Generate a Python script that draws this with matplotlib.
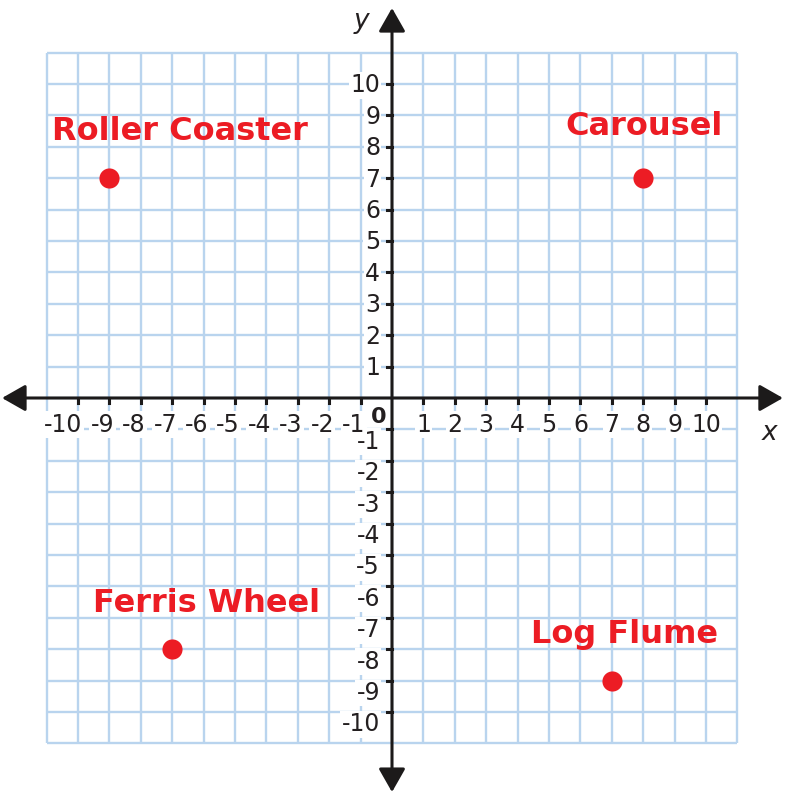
import matplotlib
matplotlib.use("Agg")
import matplotlib.pyplot as plt

# data
places = ["Roller Coaster", "Carousel", "Ferris Wheel", "Log Flume"]
place_x = [-9, 8, -7, 7]
place_y = [7, 7, -8, -9]
tick_values = [v for v in range(-10, 11) if v != 0]
grid_values = list(range(-11, 12))

# label offsets from each point (style only)
label_offsets = {
    "Roller Coaster": (2.25, 1.22),
    "Carousel": (0.03, 1.38),
    "Ferris Wheel": (1.08, 1.18),
    "Log Flume": (0.4, 1.2),
}

RED = "#ec1c24"
GRID = "#b9d4ee"
INK = "#1c1a1a"
TEXT = "#231f20"

u = 31.4  # pixels per unit
fig = plt.figure(figsize=(8, 8.07), dpi=100)
ax = fig.add_axes([0, 0, 1, 1])
ax.set_xlim(-392 / u, 408 / u)
ax.set_ylim(-(807 - 398) / u, 398 / u)
ax.axis("off")

# grid
for v in grid_values:
    ax.plot([v, v], [-11, 11], color=GRID, lw=1.7, zorder=1, solid_capstyle="butt")
    ax.plot([-11, 11], [v, v], color=GRID, lw=1.7, zorder=1, solid_capstyle="butt")

# axes with arrows
arrow = dict(arrowstyle="<|-|>,head_length=0.72,head_width=0.41",
             mutation_scale=20, lw=2.2, color=INK, shrinkA=0, shrinkB=0)
ax.annotate("", xy=(12.45, 0), xytext=(-12.42, 0), arrowprops=arrow, zorder=4)
ax.annotate("", xy=(0, 12.42), xytext=(0, -12.55), arrowprops=arrow, zorder=4)


def tick_label(x, y, s, ha):
    # white patch behind the label first, then the label on top
    ax.text(x, y, s, ha=ha, va="baseline", fontsize=17, color="none", zorder=2,
            bbox=dict(facecolor="white", edgecolor="none", pad=1.0))
    ax.text(x, y, s, ha=ha, va="baseline", fontsize=17, color=TEXT, zorder=3)


# ticks and tick labels
for v in tick_values:
    ax.plot([v, v], [0, -0.17], color=INK, lw=2.2, zorder=4)
    ax.plot([0, -0.17], [v, v], color=INK, lw=2.2, zorder=4)
    if v < 0:
        tick_label(v + 0.15, -1.07, str(v), "right")
        tick_label(-0.38, v - 0.62, str(v), "right")
    else:
        tick_label(v, -1.07, str(v), "center")
        tick_label(-0.38, v - 0.27, str(v), "right")

ax.text(-0.43, -0.8, "0", ha="center", va="baseline", fontsize=16,
        fontweight="bold", color=TEXT, zorder=5)

ax.text(-0.96, 11.78, "y", ha="center", va="baseline", fontsize=19,
        style="italic", color=TEXT)
ax.text(12.02, -1.34, "x", ha="center", va="baseline", fontsize=19,
        style="italic", color=TEXT)

# points
ax.plot(place_x, place_y, "o", color=RED, markersize=14.5, zorder=6,
        markeredgewidth=0)
for name, px, py in zip(places, place_x, place_y):
    dx, dy = label_offsets[name]
    ax.text(px + dx, py + dy, name, ha="center", va="baseline",
            fontsize=23, fontweight="bold", color=RED, zorder=6)

fig.savefig("out.png", dpi=100)
